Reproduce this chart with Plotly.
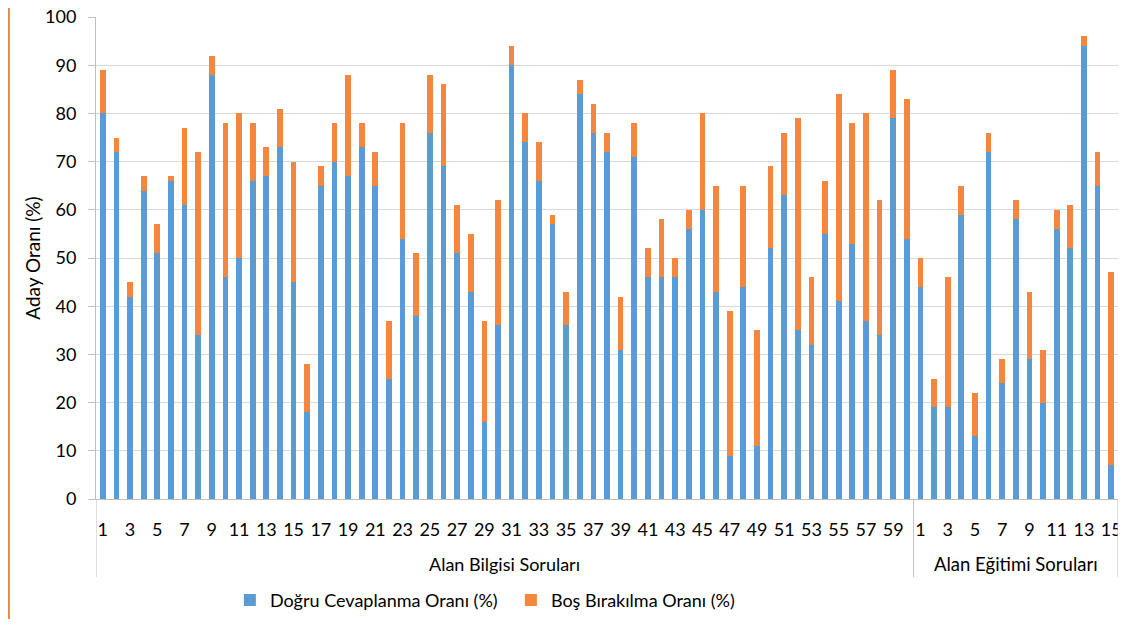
import plotly.graph_objects as go

# Alan Bilgisi Soruları (1-60)
bilgi_dogru = [80, 72, 42, 64, 51, 66, 61, 34, 88, 46, 50, 66, 67, 73, 45, 18, 65, 70, 67, 73,
               65, 25, 54, 38, 76, 69, 51, 43, 16, 36, 90, 74, 66, 57, 36, 84, 76, 72, 31, 71,
               46, 46, 46, 56, 60, 43, 9, 44, 11, 52, 63, 35, 32, 55, 41, 53, 37, 34, 79, 54]
bilgi_toplam = [89, 75, 45, 67, 57, 67, 77, 72, 92, 78, 80, 78, 73, 81, 70, 28, 69, 78, 88, 78,
                72, 37, 78, 51, 88, 86, 61, 55, 37, 62, 94, 80, 74, 59, 43, 87, 82, 76, 42, 78,
                52, 58, 50, 60, 80, 65, 39, 65, 35, 69, 76, 79, 46, 66, 84, 78, 80, 62, 89, 83]

# Alan Eğitimi Soruları (1-15)
egitim_dogru = [44, 19, 19, 59, 13, 72, 24, 58, 29, 20, 56, 52, 94, 65, 7]
egitim_toplam = [50, 25, 46, 65, 22, 76, 29, 62, 43, 31, 60, 61, 96, 72, 47]

gruplar = ["Alan Bilgisi Soruları", "Alan Eğitimi Soruları"]

dogru = bilgi_dogru + egitim_dogru
bos = [t - d for t, d in zip(bilgi_toplam + egitim_toplam, dogru)]
etiket = [str(i + 1) for i in range(len(bilgi_dogru))] + [str(i + 1) for i in range(len(egitim_dogru))]
x = list(range(len(dogru)))
n1 = len(bilgi_dogru)

FONT = "Lato"
AXIS = "#bfbfbf"

fig = go.Figure()
fig.add_trace(go.Bar(x=x, y=dogru, name="Doğru Cevaplanma Oranı (%)", marker_color="#5A9BD5",
                     marker_line_width=0))
fig.add_trace(go.Bar(x=x, y=bos, name="Boş Bırakılma Oranı (%)", marker_color="#F5863F",
                     marker_line_width=0))

tickvals = [i for i in x if int(etiket[i]) % 2 == 1]
fig.update_layout(
    width=1110,
    height=611,
    barmode="stack",
    bargap=0.58,
    margin=dict(l=88, r=0, t=9, b=120, autoexpand=False),
    paper_bgcolor="white",
    plot_bgcolor="white",
    font=dict(family=FONT, size=18, color="#000000"),
    legend=dict(orientation="h", x=0.131, xanchor="left", y=-0.21, yanchor="middle",
                font=dict(size=18), entrywidth=236, entrywidthmode="pixels",
                traceorder="normal"),
    xaxis=dict(
        range=[-0.5, len(x) - 0.5],
        tickvals=tickvals,
        ticktext=[etiket[i] for i in tickvals],
        showgrid=False,
        showline=True,
        linecolor=AXIS,
        ticks="",
        ticklabelstandoff=14,
        ticklabeloverflow="allow",
        tickfont=dict(size=18),
        zeroline=False,
        automargin=False,
    ),
    yaxis=dict(
        range=[0, 100],
        dtick=10,
        showgrid=True,
        gridcolor="#d9d9d9",
        gridwidth=1,
        showline=True,
        linecolor=AXIS,
        ticks="outside",
        ticklen=7,
        tickcolor=AXIS,
        ticklabelstandoff=8,
        ticklabeloverflow="allow",
        tickfont=dict(size=18),
        zeroline=False,
        automargin=False,
    ),
)

# y axis title
fig.add_annotation(text="Aday Oranı (%)", xref="paper", yref="paper", x=-0.0629, y=0.5,
                   xanchor="center", yanchor="middle",
                   textangle=-90, showarrow=False, font=dict(size=19))

# group labels and dividers
fig.add_annotation(text=gruplar[0], xref="x", yref="paper", x=(n1 - 1) / 2, y=-0.135,
                   xanchor="center", yanchor="middle", showarrow=False, font=dict(size=18))
fig.add_annotation(text=gruplar[1], xref="x", yref="paper", x=n1 + (len(x) - n1 - 1) / 2, y=-0.135,
                   xanchor="center", yanchor="middle", showarrow=False, font=dict(size=18.5))
for xv in [-0.5, n1 - 0.5, len(x) - 0.5]:
    fig.add_shape(type="line", xref="x", yref="paper", x0=xv, x1=xv, y0=0, y1=-0.162,
                  line=dict(color=AXIS, width=1))

# orange border on the left edge
fig.add_shape(type="line", xref="paper", yref="paper", x0=-0.0852, x1=-0.0852, y0=-0.25, y1=1.03,
              line=dict(color="#F5863F", width=2))

fig.write_html("out.html")
